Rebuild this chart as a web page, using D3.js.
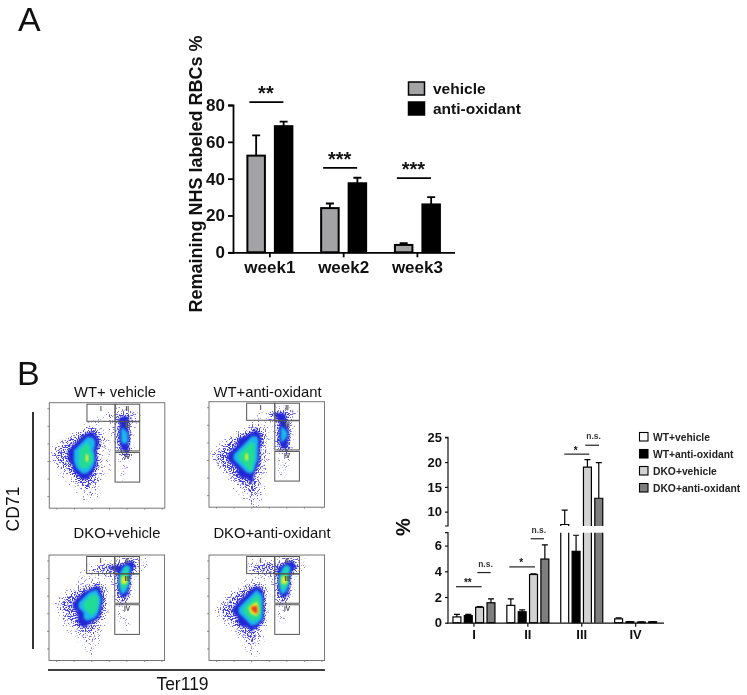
<!DOCTYPE html>
<html><head><meta charset="utf-8">
<style>html,body{margin:0;padding:0;background:#fff}svg{display:block;filter:blur(0.35px)}text{font-family:"Liberation Sans",Arial,sans-serif;fill:#111}</style>
<script src="https://cdn.jsdelivr.net/npm/d3@7/dist/d3.min.js"></script></head><body>
<script>
// ---------- Panel A data ----------
const weeks = ["week1","week2","week3"];
const seriesA = ["vehicle","anti-oxidant"];
const vehicleA = [52.5,24,4];
const vehicleATop = [63.5,26.5,5];
const antiA = [68.5,37.5,26];
const antiATop = [71,40.5,30];
const ticksA = [0,20,40,60,80];
const sigLabelsA = ["**","***","***"];
const sigLevelsA = [81.6,45.8,40.3];
// ---------- Panel B bar data ----------
const stages = ["I","II","III","IV"];
const seriesB = ["WT+vehicle","WT+anti-oxidant","DKO+vehicle","DKO+anti-oxidant"];
const wtVehicle = [0.45,1.35,7.4,0.3];
const wtVehicleTop = [0.65,1.85,10.3,0.38];
const wtAnti = [0.55,0.85,5.55,0.07];
const wtAntiTop = [0.65,1.0,6.8,0.09];
const dkoVehicle = [1.2,3.75,19,0.05];
const dkoVehicleTop = [1.25,3.8,20.5,0.07];
const dkoAnti = [1.55,4.95,12.7,0.07];
const dkoAntiTop = [1.85,6.05,19.9,0.09];
const ticksLow = [0,2,4,6];
const ticksHigh = [10,15,20,25];
// ---------- Flow panels: density, 0 (none) to 8 (peak) ----------
const flowTitles = ["WT+ vehicle","WT+anti-oxidant","DKO+vehicle","DKO+anti-oxidant"];
const gateNames = ["I","II","III","IV"];
const gateX0 = [7.5,13.1,13.1,13.1], gateX1 = [13.1,18,18,18];
const gateY0 = [0.3,0.3,3.8,9.9], gateY1 = [3.7,3.7,9.6,15.8];
const densityWTVehicle = [
"00000000000000000000000","00000000000001111000000","00000000000122332100000","00000000011113442100000",
"00000001110012431000000","00000012321012541000000","00001234431012551000000","00123345542102551000000",
"01233456542102441000000","12334566531101341000000","12334567631100231000000","12334567631100110000000",
"01233566531100110000000","01123455421100100000000","00112344321000100000000","00011233321000100000000",
"00001123210000000000000","00000112210000000000000","00000011110000000000000","00000001100000000000000","00000000000000000000000"];
const densityWTAnti = [
"00000000000000000000000","00000000000001111000000","00000000001134432100000","00000000011123431100000",
"00000000111102431000000","00000001232102541000000","00000123443102551000000","00012344553102541000000",
"00123345653102441000000","01233456652101331000000","12334567652100120000000","12334567652100110000000",
"01233456642100110000000","00123345632100100000000","00012344421000100000000","00001233421000100000000",
"00000123321000000000000","00000112321000000000000","00000011221000000000000","00000001211000000000000","00000000110000000000000"];
const densityDKOVehicle = [
"00000000000000111110000","00000000000112234211000","00000001123344464210000","00000011122223563100000",
"00000011110112771000000","00000011121012771000000","00000122343102651000000","00012334553102541000000",
"00123345664102331000000","01233456664101210000000","01233456663100100000000","00123345653100100000000",
"00123345542100100000000","00012344321000110000000","00011233321000010000000","00001122210000000000000",
"00000112210000000000000","00000011110000000000000","00000001100000000000000","00000000100000000000000","00000000000000000000000"];
const densityDKOAnti = [
"00000000000000111110000","00000000111221234210000","00000001233333464310000","00000000112223563100000",
"00000000011012771000000","00000001111012771000000","00000012343102651000000","00001233454102541000000",
"00012334565102331000000","00123345675101210000000","01233456885100110000000","01233456785100100000000",
"00123345665100100000000","00012344553100100000000","00001233431000000000000","00000123321000000000000",
"00000012321000000000000","00000011211000000000000","00000001110000000000000","00000000110000000000000","00000000000000000000000"];
const densityLevels = [0.3,1.1,2.2,3.2,4.4,5.4,6.7,7.6];
const densityColors = ["#8a84ee","#5f59e8","#3f3ce0","#2226d6","#1fb6ec","#22dc96","#e6ee2a","#f0381c"];

const W=747,H=695;
const svg=d3.select("body").append("svg").attr("width",W).attr("height",H).attr("viewBox",[0,0,W,H]);
const defs=svg.append("defs");
function speckle(id,thresh){
  const f=defs.append("filter").attr("id",id).attr("x","-5%").attr("y","-5%").attr("width","110%").attr("height","110%")
    .attr("color-interpolation-filters","sRGB");
  f.append("feTurbulence").attr("type","fractalNoise").attr("baseFrequency",0.85).attr("numOctaves",1).attr("seed",7).attr("result","n");
  f.append("feColorMatrix").attr("in","n").attr("type","matrix")
    .attr("values",`0 0 0 0 0 0 0 0 0 0 0 0 0 0 0 0 0 0 14 ${-14*thresh}`).attr("result","m");
  f.append("feComposite").attr("in","SourceGraphic").attr("in2","m").attr("operator","in");
}
speckle("sp0",0.63);speckle("sp1",0.56);speckle("sp2",0.47);
defs.append("filter").attr("id","soft").append("feGaussianBlur").attr("stdDeviation",1.1);

// letters
svg.append("text").attr("x",18).attr("y",31).attr("font-size",34).text("A");
svg.append("text").attr("x",17).attr("y",385).attr("font-size",34).text("B");

// ---------- Panel A ----------
const a=svg.append("g");
const xA=d3.scaleBand().domain(weeks).range([233,454.3]);
const innerA=d3.scaleBand().domain(seriesA).range([-23.5,23.5]).paddingInner(0.29);
const yA=d3.scaleLinear().domain([0,80]).range([252.3,105]);
const valsA={"vehicle":[vehicleA,vehicleATop,"#a3a3a6"],"anti-oxidant":[antiA,antiATop,"#000"]};
seriesA.forEach(s=>{
  const [v,t,c]=valsA[s];
  weeks.forEach((w,i)=>{
    const cx=xA(w)+xA.bandwidth()/2, x0=cx+innerA(s), bw=innerA.bandwidth(), mid=x0+bw/2;
    a.append("path").attr("d",`M${mid},${yA(v[i])}V${yA(t[i])}M${mid-4},${yA(t[i])}H${mid+4}`).attr("stroke","#000").attr("stroke-width",1.8).attr("fill","none");
    a.append("rect").attr("x",x0+1).attr("y",yA(v[i])).attr("width",bw-2).attr("height",yA(0)-yA(v[i])).attr("fill",c).attr("stroke","#000").attr("stroke-width",2);
  });
});
const axYA=a.append("g").attr("transform","translate(233,0)").call(d3.axisLeft(yA).tickValues(ticksA).tickSize(5));
const axXA=a.append("g").attr("transform",`translate(0,${yA(0)})`).call(d3.axisBottom(xA).tickSize(5));
[axYA,axXA].forEach(g=>{g.selectAll("path,line").attr("stroke","#000").attr("stroke-width",1.8);
  g.selectAll("text").attr("font-family",'"Liberation Sans"').attr("font-weight","bold").attr("font-size",17).attr("fill","#111");});
axXA.select("path").attr("d","M230,0.5H455");
axXA.selectAll("text").attr("dy",13);
weeks.forEach((w,i)=>{
  const cx=xA(w)+xA.bandwidth()/2, y=yA(sigLevelsA[i]);
  a.append("line").attr("x1",cx-20.5).attr("x2",cx+13.5).attr("y1",y).attr("y2",y).attr("stroke","#000").attr("stroke-width",1.7);
  a.append("text").attr("x",cx-4).attr("y",y-2).attr("text-anchor","middle").attr("font-size",20).attr("font-weight","bold").text(sigLabelsA[i]);
});
a.append("text").attr("transform","translate(202,174) rotate(-90)").attr("text-anchor","middle").attr("font-size",18).attr("font-weight","bold").text("Remaining NHS labeled RBCs %");
seriesA.forEach((s,i)=>{
  const y=[82,102][i];
  a.append("rect").attr("x",408.5).attr("y",y).attr("width",16).attr("height",13).attr("fill",valsA[s][2]).attr("stroke","#000").attr("stroke-width",1.5);
  a.append("text").attr("x",433).attr("y",y+12).attr("font-size",15.5).attr("font-weight","bold").text(s);
});

// ---------- Flow panels ----------
const flowData=[densityWTVehicle,densityWTAnti,densityDKOVehicle,densityDKOAnti];
const panelOrigins=[[49.3,402.7],[209,401.7],[49,555],[209,555]];
const titlePos=[[115,397],[267.6,397],[117,538],[272,538]];
const fw=115.5,fh=105.5;
flowData.forEach((rows,p)=>{
  const [ox,oy]=panelOrigins[p];
  const g=svg.append("g").attr("transform",`translate(${ox},${oy})`);
  const sx=d3.scaleLinear().domain([0,23]).range([0,fw]);
  const sy=d3.scaleLinear().domain([0,21]).range([0,fh]);
  const flat=rows.flatMap(r=>Array.from(r.padEnd(23,"0").slice(0,23),Number));
  const cs=d3.contours().size([23,21]).thresholds(densityLevels)(flat);
  const gp=d3.geoPath(d3.geoTransform({point(x,y){this.stream.point(sx(x),sy(y));}}));
  cs.forEach((c,i)=>{
    const pth=g.append("path").attr("d",gp(c)).attr("fill",densityColors[i]);
    pth.attr("filter",i===0?"url(#sp0)":i===1?"url(#sp1)":i===2?"url(#sp2)":"url(#soft)");
  });
  g.append("rect").attr("width",fw).attr("height",fh).attr("fill","none").attr("stroke","#777").attr("stroke-width",1);
  const tk=g.append("g").attr("stroke","#666").attr("stroke-width",0.7);
  d3.range(1.2,21,3.5).forEach(v=>tk.append("line").attr("x1",-2).attr("x2",0).attr("y1",sy(v)).attr("y2",sy(v)));
  d3.range(1.5,23,3.5).forEach(v=>tk.append("line").attr("x1",sx(v)).attr("x2",sx(v)).attr("y1",fh).attr("y2",fh+1.5));
  gateNames.forEach((n,i)=>{
    g.append("rect").attr("x",sx(gateX0[i])).attr("y",sy(gateY0[i])).attr("width",sx(gateX1[i])-sx(gateX0[i])).attr("height",sy(gateY1[i])-sy(gateY0[i]))
      .attr("fill","none").attr("stroke","#555").attr("stroke-width",1);
    g.append("text").attr("x",(sx(gateX0[i])+sx(gateX1[i]))/2).attr("y",sy(gateY0[i])+6.5).attr("text-anchor","middle").attr("font-size",6.5).attr("font-weight","bold").attr("style","fill:#444").text(n);
  });
  svg.append("text").attr("x",titlePos[p][0]).attr("y",titlePos[p][1]).attr("text-anchor","middle").attr("font-size",14.8).text(flowTitles[p]);
});
svg.append("line").attr("x1",33).attr("x2",33).attr("y1",412).attr("y2",649).attr("stroke","#000").attr("stroke-width",1.6);
svg.append("line").attr("x1",48).attr("x2",325).attr("y1",670).attr("y2",670).attr("stroke","#000").attr("stroke-width",1.6);
svg.append("text").attr("transform","translate(19,509) rotate(-90)").attr("text-anchor","middle").attr("font-size",17.5).text("CD71");
svg.append("text").attr("x",182.5).attr("y",690).attr("text-anchor","middle").attr("font-size",17.5).text("Ter119");

// ---------- Panel B bars ----------
const b=svg.append("g");
const xB=d3.scaleBand().domain(stages).range([447,662.6]);
const innerB=d3.scaleBand().domain(seriesB).range([-21,21]).paddingInner(0.3);
const yLow=d3.scaleLinear().domain([0,7]).range([622.7,532.7]);
const yHigh=d3.scaleLinear().domain([7.1,25]).range([526,437.3]);
const breakAt=7;
const valsB={"WT+vehicle":[wtVehicle,wtVehicleTop,"#fff"],"WT+anti-oxidant":[wtAnti,wtAntiTop,"#000"],"DKO+vehicle":[dkoVehicle,dkoVehicleTop,"#d2d2d2"],"DKO+anti-oxidant":[dkoAnti,dkoAntiTop,"#7e7e7e"]};
const yB=v=>v<=breakAt?yLow(v):yHigh(v);
seriesB.forEach(s=>{
  const [v,t,c]=valsB[s];
  stages.forEach((st,i)=>{
    const cx=xB(st)+xB.bandwidth()/2,x0=cx+innerB(s),bw=innerB.bandwidth(),mid=x0+bw/2;
    b.append("path").attr("d",`M${mid},${yB(v[i])}V${yB(t[i])}M${mid-3},${yB(t[i])}H${mid+3}`).attr("stroke","#000").attr("stroke-width",1.2).attr("fill","none");
    if(v[i]<=breakAt){
      b.append("rect").attr("x",x0).attr("y",yLow(v[i])).attr("width",bw).attr("height",yLow(0)-yLow(v[i])).attr("fill",c).attr("stroke","#000").attr("stroke-width",1.2);
    }else{
      b.append("rect").attr("x",x0).attr("y",yLow(breakAt)).attr("width",bw).attr("height",yLow(0)-yLow(breakAt)).attr("fill",c).attr("stroke","none");
      b.append("path").attr("d",`M${x0},${yLow(0)}V${yLow(breakAt)}M${x0+bw},${yLow(0)}V${yLow(breakAt)}`).attr("stroke","#000").attr("stroke-width",1.2);
      b.append("rect").attr("x",x0).attr("y",yHigh(v[i])).attr("width",bw).attr("height",yHigh(7.1)-yHigh(v[i])).attr("fill",c).attr("stroke","none");
      b.append("path").attr("d",`M${x0},${yHigh(7.1)}V${yHigh(v[i])}H${x0+bw}V${yHigh(7.1)}`).attr("fill","none").attr("stroke","#000").attr("stroke-width",1.2);
    }
  });
});
const axLow=b.append("g").attr("transform","translate(448,0)").call(d3.axisLeft(yLow).tickValues(ticksLow).tickFormat(d3.format("d")).tickSize(3));
const axHigh=b.append("g").attr("transform","translate(448,0)").call(d3.axisLeft(yHigh).tickValues(ticksHigh).tickFormat(d3.format("d")).tickSize(3));
const axXB=b.append("g").attr("transform",`translate(0,${yLow(0)})`).call(d3.axisBottom(xB).tickSize(4));
axXB.select("path").attr("d","M447,0.5H664");
[axLow,axHigh,axXB].forEach(g=>{g.selectAll("path,line").attr("stroke","#111").attr("stroke-width",1.2);
  g.selectAll("text").attr("font-family",'"Liberation Sans"').attr("font-weight","bold").attr("font-size",13).attr("fill","#222");});
axXB.selectAll("text").attr("dy",9);
axLow.select("path").attr("d","M-3,532.7H0V622.7");
axHigh.select("path").attr("d","M-3,437.3H0V526H-3");
const bracketsB=[
 [456,481.7,2.8,"low","**"],[477.3,490.7,3.9,"low","n.s."],
 [509.3,535,4.34,"low","*"],[530.7,544,6.53,"low","n.s."],
 [564.3,589.3,21.6,"high","*"],[585.3,599,23.4,"high","n.s."]];
bracketsB.forEach(([x1,x2,v,ax,lab])=>{
  const y=(ax==="low"?yLow:yHigh)(v);
  b.append("line").attr("x1",x1).attr("x2",x2).attr("y1",y).attr("y2",y).attr("stroke","#222").attr("stroke-width",1.2);
  if(lab==="n.s.") b.append("text").attr("x",(x1+x2)/2+1.5).attr("y",y-6).attr("text-anchor","middle").attr("font-size",8.5).attr("font-weight","bold").attr("style","fill:#333").text(lab);
  else b.append("text").attr("x",(x1+x2)/2-1).attr("y",y-0.5).attr("text-anchor","middle").attr("font-size",10).attr("font-weight","bold").text(lab);
});
b.append("text").attr("transform","translate(410,527) rotate(-90)").attr("text-anchor","middle").attr("font-size",20).attr("font-weight","bold").text("%");
seriesB.forEach((s,i)=>{
  const y=[432.5,449.5,466.5,483.5][i];
  b.append("rect").attr("x",639.5).attr("y",y).attr("width",8.5).attr("height",8.5).attr("fill",valsB[s][2]).attr("stroke","#000").attr("stroke-width",1.1);
  b.append("text").attr("x",653).attr("y",y+8.3).attr("font-size",10.3).attr("font-weight","bold").attr("style","fill:#222").text(s);
});
</script></body></html>
